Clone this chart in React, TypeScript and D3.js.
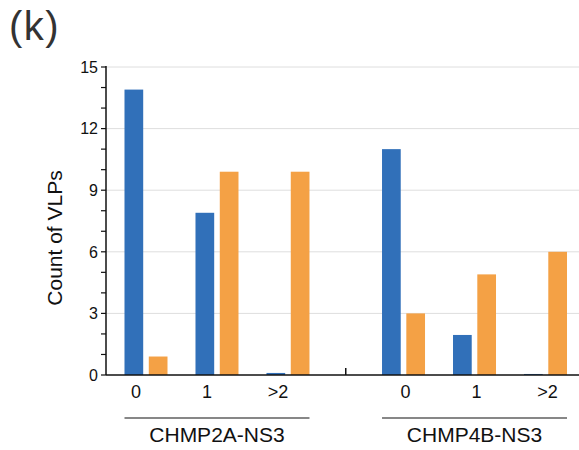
import React from "react";
import * as d3 from "d3";

const groups = ["CHMP2A-NS3", "CHMP4B-NS3"];
const categories = ["0", "1", ">2"];
const seriesKeys = ["blue", "orange"];
const blueValues2A = [13.9, 7.9, 0.1];
const orangeValues2A = [0.9, 9.9, 9.9];
const blueValues4B = [11, 1.95, 0.05];
const orangeValues4B = [3, 4.9, 6];
const yTicks = [0, 3, 6, 9, 12, 15];
const minorTicks = d3.range(0, 16);

const W = 579;
const H = 450;
const FONT = "'Liberation Sans', Arial, sans-serif";
const COLORS: Record<string, string> = { blue: "#3170b9", orange: "#f4a145" };
const LABEL_SHIFT: Record<string, number> = { "CHMP2A-NS3": -10, "CHMP4B-NS3": 2 };

export default function App() {
  const axisX = 106;
  const y = d3.scaleLinear().domain([0, 15]).range([375, 67]);
  const x0 = d3.scaleBand<string>().domain(groups).range([110.5, 581]).paddingInner(0.173).paddingOuter(0);
  const x1 = d3.scaleBand<string>().domain(categories).range([0, x0.bandwidth()]);
  const pairW = 43;
  const x2 = d3.scaleBand<string>().domain(seriesKeys).range([0, pairW]).paddingInner(0.23);

  const data: Record<string, Record<string, number[]>> = {
    "CHMP2A-NS3": { blue: blueValues2A, orange: orangeValues2A },
    "CHMP4B-NS3": { blue: blueValues4B, orange: orangeValues4B },
  };

  const catCenter = (g: string, c: string) => (x0(g) as number) + (x1(c) as number) + x1.bandwidth() / 2;
  const barX = (g: string, c: string, s: string) => catCenter(g, c) - pairW / 2 + (x2(s) as number);

  const midTick = ((x0(groups[0]) as number) + x0.bandwidth() + (x0(groups[1]) as number)) / 2;

  return (
    <svg width={W} height={H} style={{ position: "absolute", left: 0, top: 0, background: "#fff" }} fontFamily={FONT}>
      <text x={9} y={40} fontSize={40} fill="#333" letterSpacing={1.5}>(k)</text>

      {/* gridlines */}
      {yTicks.filter((t) => t > 0).map((t) => (
        <line key={"g" + t} x1={axisX} x2={W} y1={y(t)} y2={y(t)} stroke="#dedede" strokeWidth={1} />
      ))}

      {/* bars */}
      {groups.map((g) =>
        categories.map((c, i) =>
          seriesKeys.map((s) => {
            const v = data[g][s][i];
            return (
              <rect
                key={g + c + s}
                x={barX(g, c, s)}
                y={y(v)}
                width={x2.bandwidth()}
                height={y(0) - y(v)}
                fill={COLORS[s]}
              />
            );
          })
        )
      )}

      {/* y axis */}
      <line x1={axisX} x2={axisX} y1={y(15) - 1} y2={y(0)} stroke="#111" strokeWidth={1.5} />
      {minorTicks.map((t) => (
        <line key={"m" + t} x1={axisX - 5} x2={axisX} y1={y(t)} y2={y(t)} stroke="#111" strokeWidth={1.2} />
      ))}
      {yTicks.map((t) => (
        <text key={"t" + t} x={axisX - 8} y={y(t)} dy="0.36em" textAnchor="end" fontSize={16} fill="#111">
          {t}
        </text>
      ))}
      <text
        transform={`translate(62, 238) rotate(-90)`}
        textAnchor="middle"
        fontSize={21}
        fill="#111"
      >
        Count of VLPs
      </text>

      {/* x axis */}
      <line x1={axisX} x2={W} y1={y(0)} y2={y(0)} stroke="#111" strokeWidth={1.5} />
      <line x1={midTick} x2={midTick} y1={y(0)} y2={y(0) - 7} stroke="#111" strokeWidth={1.5} />
      {groups.map((g) =>
        categories.map((c) => (
          <text
            key={"xl" + g + c}
            x={catCenter(g, c) + LABEL_SHIFT[g]}
            y={398}
            textAnchor="middle"
            fontSize={18}
            fill="#111"
          >
            {c}
          </text>
        ))
      )}

      {/* group labels */}
      {groups.map((g) => {
        const xs = barX(g, categories[0], seriesKeys[0]);
        const xe = barX(g, categories[categories.length - 1], seriesKeys[1]) + x2.bandwidth();
        return (
          <g key={"grp" + g}>
            <line x1={xs} x2={xe} y1={418} y2={418} stroke="#111" strokeWidth={1.2} />
            <text x={(xs + xe) / 2} y={442} textAnchor="middle" fontSize={21} fill="#111">
              {g}
            </text>
          </g>
        );
      })}
    </svg>
  );
}
